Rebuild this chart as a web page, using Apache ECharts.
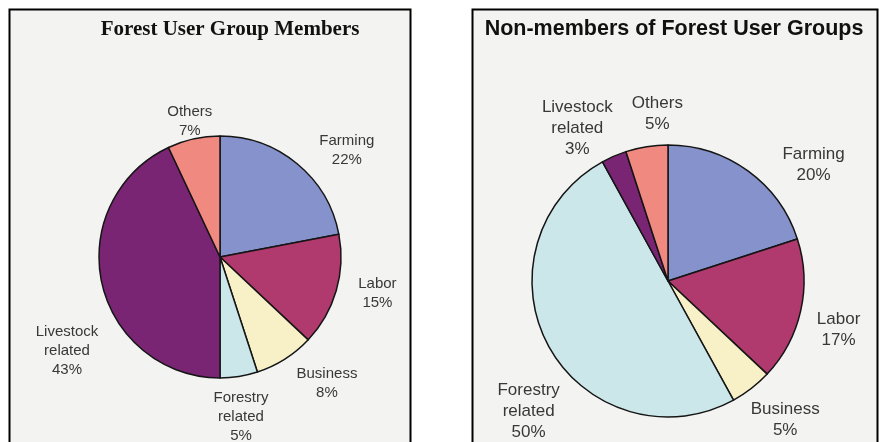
<!DOCTYPE html>
<html>
<head>
<meta charset="utf-8">
<script src="https://cdn.jsdelivr.net/npm/echarts@6/dist/echarts.min.js"></script>
<style>
html,body{margin:0;padding:0;background:#ffffff;}
#c{width:879px;height:442px;}
</style>
</head>
<body>
<div id="c"></div>
<script>
var leftTitle = "Forest User Group Members";
var rightTitle = "Non-members of Forest User Groups";
var categories = ["Farming", "Labor", "Business", "Forestry related", "Livestock related", "Others"];
var membersValues = [22, 15, 8, 5, 43, 7];
var nonMembersValues = [20, 17, 5, 50, 3, 5];
var sliceColors = ["#8592cc", "#b0396d", "#f8f0c6", "#cbe7ea", "#7a2574", "#f08a80"];
// label fine placement (layout only)
var membersLabelNudge = [[21, 21], [-2, -10], [18, -14], [-5, -4], [9, 58], [6, 26]];
var nonMembersLabelNudge = [[38, 32], [-8, 9], [5, -6], [21, 42], [-18, 15], [18, 14]];

function buildData(values) {
  return categories.map(function (name, i) {
    return { name: name, value: values[i], itemStyle: { color: sliceColors[i] } };
  });
}
function labelText(p) {
  return p.name.replace(' ', '\n') + '\n' + p.value + '%';
}
function pieSeries(values, center, radius) {
  return {
    type: 'pie', center: center, radius: [0, radius], startAngle: 90, clockwise: true,
    silent: true, animation: false,
    itemStyle: { borderColor: '#151515', borderWidth: 1.5 },
    label: { show: false }, labelLine: { show: false },
    emphasis: { disabled: true },
    data: buildData(values)
  };
}
function labelRing(values, nudge, center, inner, outer, fontSize, lineHeight) {
  return {
    type: 'pie', center: center, radius: [inner, outer], startAngle: 90, clockwise: true,
    silent: true, animation: false, avoidLabelOverlap: false,
    itemStyle: { color: 'rgba(0,0,0,0)', borderWidth: 0 },
    label: {
      show: true, position: 'inside', formatter: labelText,
      fontFamily: 'Liberation Sans, Arial, sans-serif', fontSize: fontSize,
      lineHeight: lineHeight, color: '#383838', align: 'center'
    },
    labelLine: { show: false },
    emphasis: { disabled: true },
    data: categories.map(function (name, i) {
      return { name: name, value: values[i], label: { offset: nudge[i] } };
    })
  };
}

var chart = echarts.init(document.getElementById('c'), null, { renderer: 'canvas' });
chart.setOption({
  backgroundColor: '#ffffff',
  animation: false,
  graphic: [
    { type: 'rect', z: -10, shape: { x: 9.5, y: 9.5, width: 401, height: 450 },
      style: { fill: '#f3f3f1', stroke: '#000000', lineWidth: 2 } },
    { type: 'rect', z: -10, shape: { x: 472.5, y: 9.5, width: 405, height: 450 },
      style: { fill: '#f3f3f1', stroke: '#000000', lineWidth: 2 } }
  ],
  title: [
    { text: leftTitle, left: 225, top: 14, textAlign: 'center',
      textStyle: { fontFamily: 'Liberation Serif, Times New Roman, serif', fontWeight: 'bold', fontSize: 21, color: '#111' } },
    { text: rightTitle, left: 669, top: 13, textAlign: 'center',
      textStyle: { fontFamily: 'Liberation Sans, Arial, sans-serif', fontWeight: 'bold', fontSize: 21.5, color: '#111' } }
  ],
  series: [
    pieSeries(membersValues, [220, 257], 121),
    labelRing(membersValues, membersLabelNudge, [220, 257], 142, 184, 15, 19),
    pieSeries(nonMembersValues, [668, 281], 136),
    labelRing(nonMembersValues, nonMembersLabelNudge, [668, 281], 160, 200, 17, 21)
  ]
});
</script>
</body>
</html>
